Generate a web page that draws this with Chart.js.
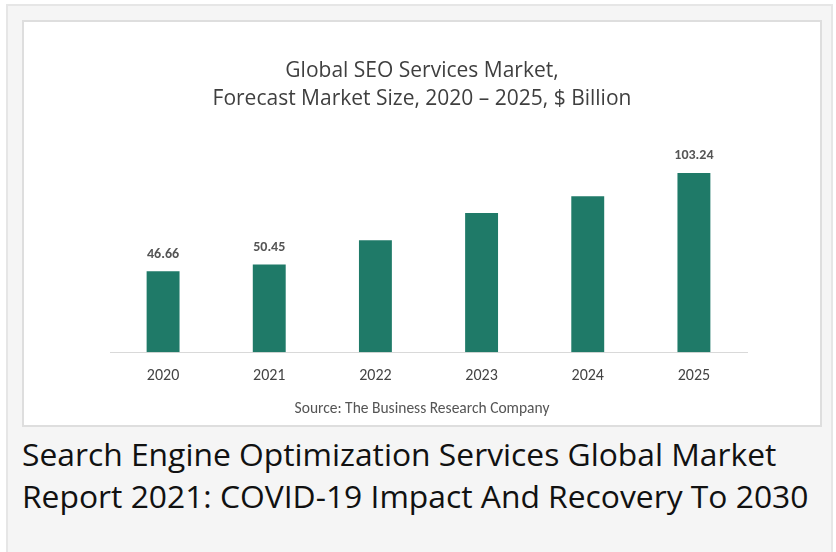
<!DOCTYPE html>
<html>
<head>
<meta charset="utf-8">
<script src="https://cdn.jsdelivr.net/npm/chart.js@4/dist/chart.umd.min.js"></script>
<style>
  body { margin: 0; background: #ffffff; }
  #outer {
    position: absolute; left: 6px; top: 4px; width: 823px; height: 550px;
    background: #f5f5f5; border: 2px solid #e6e6e6; border-bottom: none;
  }
  #box {
    position: absolute; left: 22px; top: 20px; width: 796px; height: 403px;
    background: #ffffff; border: 2px solid #dedede;
  }
  #caption {
    position: absolute; left: 22px; top: 433px; width: 800px;
    font-family: "Open Sans", sans-serif; font-size: 31.8px; line-height: 42px;
    color: #111111;
  }
</style>
</head>
<body>
<div id="outer"></div>
<div id="box"><canvas id="seoChart" width="796" height="403"></canvas></div>
<div id="caption">Search Engine Optimization Services Global Market Report 2021: COVID-19 Impact And Recovery To 2030</div>
<script>
// data
const years = ['2020', '2021', '2022', '2023', '2024', '2025'];
const marketSize = [46.66, 50.45, 64.5, 80.2, 89.8, 103.24];
const valueLabels = ['46.66', '50.45', '', '', '', '103.24'];
const titleLines = ['Global SEO Services Market,', 'Forecast Market Size, 2020 \u2013 2025, $ Billion'];
const sourceText = 'Source: The Business Research Company';

const fontFamily = 'Carlito, Lato, sans-serif';

// draws the value over a bar when there is one
const barValuePlugin = {
    id: 'barValuePlugin',
    afterDatasetsDraw: function (chart) {
        var ctx = chart.ctx;
        var meta = chart.getDatasetMeta(0);
        ctx.save();
        ctx.font = 'bold 14px ' + fontFamily;
        ctx.fillStyle = '#555555';
        ctx.textAlign = 'center';
        ctx.textBaseline = 'middle';
        meta.data.forEach(function (bar, i) {
            if (valueLabels[i]) {
                ctx.fillText(valueLabels[i], bar.x, bar.y - 17);
            }
        });
        ctx.restore();
    }
};

// empty side axes, only to keep the plot narrower than the title
const hiddenSide = function (width) {
    return {
        display: true,
        grid: { display: false },
        border: { display: false },
        ticks: { display: false },
        afterFit: function (scale) { scale.width = width; }
    };
};

var ctx = document.getElementById('seoChart').getContext('2d');
new Chart(ctx, {
    type: 'bar',
    data: {
        labels: years,
        datasets: [{
            data: marketSize,
            backgroundColor: '#1f7a68',
            borderWidth: 0,
            categoryPercentage: 1,
            barPercentage: 0.31
        }]
    },
    options: {
        responsive: false,
        animation: false,
        layout: { padding: { left: 0, right: 0, top: 0, bottom: 7 } },
        plugins: {
            legend: { display: false },
            tooltip: { enabled: false },
            title: {
                display: true,
                text: titleLines,
                color: '#3f3f3f',
                font: { family: '"Open Sans", sans-serif', size: 21, weight: 'normal', lineHeight: 1.33 },
                padding: { top: 35, bottom: 31 }
            },
            subtitle: {
                display: true,
                position: 'bottom',
                text: sourceText,
                color: '#555555',
                font: { family: fontFamily, size: 15.5, lineHeight: 1.2 },
                padding: { top: 0, bottom: 0 }
            }
        },
        scales: {
            x: {
                grid: { display: false, drawTicks: false },
                border: { display: true, color: '#d9d9d9', width: 1 },
                ticks: {
                    color: '#444444',
                    padding: 14,
                    font: { family: fontFamily, size: 16, lineHeight: 1.2 }
                }
            },
            y: Object.assign(hiddenSide(86), { min: 0, max: 120 }),
            yRight: Object.assign(hiddenSide(73), { type: 'linear', position: 'right' })
        }
    },
    plugins: [barValuePlugin]
});
</script>
</body>
</html>
